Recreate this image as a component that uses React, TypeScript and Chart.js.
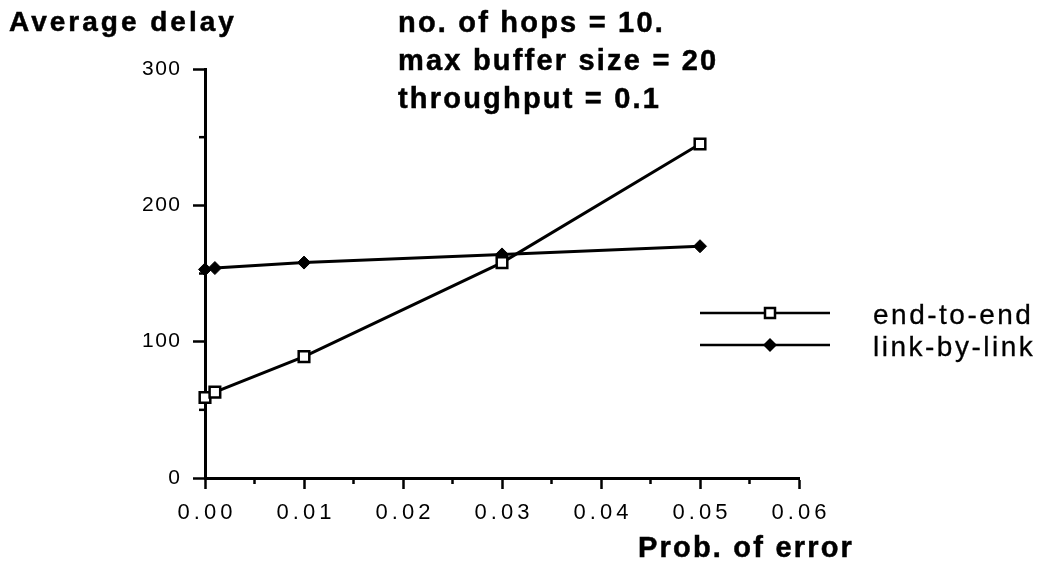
import React, { useEffect, useRef } from "react";
import { Chart, registerables, LinearScale } from "chart.js";

Chart.register(...registerables);

// Linear scale whose tick labels are drawn with extra letter spacing
class SpacedLinearScale extends LinearScale {
  static id = "spacedLinear";
  drawLabels(chartArea: any) {
    const ctx = this.ctx as any;
    const spacing = (this.options as any).letterSpacing || 0;
    ctx.save();
    ctx.letterSpacing = spacing + "px";
    // keep labels centred / right-aligned despite the trailing spacing
    if (this.isHorizontal()) ctx.translate(spacing / 2, 0);
    else ctx.translate(spacing, 0);
    super.drawLabels(chartArea);
    ctx.restore();
  }
}
Chart.register(SpacedLinearScale as any);

// Probability of error (x) for each measurement
const probError = [0, 0.001, 0.01, 0.03, 0.05];
// Average delay values per scheme
const endToEnd = [59, 63, 89, 158, 245];
const linkByLink = [153, 154, 158, 164, 170];

const xTicks = [0, 0.01, 0.02, 0.03, 0.04, 0.05, 0.06];
const xMinorTicks = [0.005, 0.015, 0.025, 0.035, 0.045, 0.055];
const yTicks = [0, 100, 200, 300];
const yMinorTicks = [50, 150, 250];

const seriesNames = ["end-to-end", "link-by-link"];
const infoLines = ["no. of hops = 10.", "max buffer size = 20", "throughput = 0.1"];

const FONT = "'Liberation Sans', Arial, Helvetica, sans-serif";

const minorTicksPlugin = {
  id: "minorTicks",
  afterDraw(chart: any) {
    const { ctx, scales } = chart;
    const xs = scales.x;
    const ys = scales.y;
    ctx.save();
    ctx.strokeStyle = "#000";
    ctx.lineWidth = 2.5;
    ctx.lineCap = "butt";
    xMinorTicks.forEach((v) => {
      const px = xs.getPixelForValue(v);
      ctx.beginPath();
      ctx.moveTo(px, ys.bottom);
      ctx.lineTo(px, ys.bottom + 6);
      ctx.stroke();
    });
    yMinorTicks.forEach((v) => {
      const py = ys.getPixelForValue(v);
      ctx.beginPath();
      ctx.moveTo(xs.left, py);
      ctx.lineTo(xs.left - 6, py);
      ctx.stroke();
    });
    ctx.restore();
  },
};

// Legend samples: a line with the series marker in the middle
const legendPlugin = {
  id: "sampleLegend",
  afterDraw(chart: any) {
    const { ctx } = chart;
    const rows = [313, 345];
    const x0 = 700;
    const x1 = 830;
    const mx = 770;
    ctx.save();
    ctx.strokeStyle = "#000";
    ctx.lineWidth = 2.5;
    rows.forEach((y, i) => {
      ctx.beginPath();
      ctx.moveTo(x0, y);
      ctx.lineTo(x1, y);
      ctx.stroke();
      if (i === 0) {
        ctx.fillStyle = "#fff";
        ctx.beginPath();
        ctx.rect(mx - 5, y - 5, 10, 10);
        ctx.fill();
        ctx.stroke();
      } else {
        ctx.fillStyle = "#000";
        ctx.beginPath();
        ctx.moveTo(mx, y - 7);
        ctx.lineTo(mx + 7, y);
        ctx.lineTo(mx, y + 7);
        ctx.lineTo(mx - 7, y);
        ctx.closePath();
        ctx.fill();
      }
    });
    ctx.restore();
  },
};

function DelayChart() {
  const ref = useRef<HTMLCanvasElement | null>(null);

  useEffect(() => {
    if (!ref.current) return;
    const chart = new Chart(ref.current, {
      type: "line",
      data: {
        datasets: [
          {
            label: seriesNames[0],
            data: probError.map((x, i) => ({ x, y: endToEnd[i] })),
            borderColor: "#000",
            borderWidth: 3,
            pointStyle: "rect",
            pointRadius: 7.5,
            pointBorderWidth: 2.5,
            pointBackgroundColor: "#fff",
            pointBorderColor: "#000",
            tension: 0,
            clip: false,
          },
          {
            label: seriesNames[1],
            data: probError.map((x, i) => ({ x, y: linkByLink[i] })),
            borderColor: "#000",
            borderWidth: 3,
            pointStyle: "rectRot",
            pointRadius: 6.5,
            pointBorderWidth: 1,
            pointBackgroundColor: "#000",
            pointBorderColor: "#000",
            tension: 0,
            clip: false,
          },
        ],
      },
      options: {
        animation: false,
        responsive: false,
        devicePixelRatio: 1,
        layout: { padding: { left: 0, top: 69, right: 246, bottom: 0 } },
        plugins: {
          legend: { display: false },
          tooltip: { enabled: false },
        },
        scales: {
          x: {
            type: "spacedLinear" as any,
            letterSpacing: 4,
            min: 0,
            max: 0.06,
            afterBuildTicks: (s: any) => {
              s.ticks = xTicks.map((value) => ({ value }));
            },
            afterFit: (s: any) => {
              s.height = 91;
            },
            ticks: {
              callback: (v: any) => Number(v).toFixed(2),
              color: "#000",
              font: { family: FONT, size: 22 },
              padding: 11,
              maxRotation: 0,
              autoSkip: false,
            },
            grid: {
              drawOnChartArea: false,
              drawTicks: true,
              tickLength: 11,
              tickWidth: 2.5,
              tickColor: "#000",
            },
            border: { display: true, color: "#000", width: 3 },
          } as any,
          y: {
            type: "spacedLinear" as any,
            letterSpacing: 1.5,
            min: 0,
            max: 300,
            afterBuildTicks: (s: any) => {
              s.ticks = yTicks.map((value) => ({ value }));
            },
            afterFit: (s: any) => {
              s.width = 205;
            },
            ticks: {
              color: "#000",
              font: { family: FONT, size: 21 },
              padding: 13,
            },
            grid: {
              drawOnChartArea: false,
              drawTicks: true,
              tickLength: 12,
              tickWidth: 2.5,
              tickColor: "#000",
            },
            border: { display: true, color: "#000", width: 3 },
          } as any,
        },
      },
      plugins: [minorTicksPlugin, legendPlugin],
    });
    return () => chart.destroy();
  }, []);

  return (
    <canvas
      ref={ref}
      width={1045}
      height={569}
      style={{ width: 1045, height: 569, display: "block" }}
    />
  );
}

const boldText: React.CSSProperties = {
  position: "absolute",
  fontFamily: FONT,
  fontWeight: "bold",
  fontSize: 29,
  letterSpacing: 2.2,
  lineHeight: 1,
  whiteSpace: "nowrap",
  color: "#000",
  WebkitTextStroke: "0.5px #000",
};

const plainText: React.CSSProperties = {
  position: "absolute",
  fontFamily: FONT,
  fontSize: 28,
  letterSpacing: 2.5,
  lineHeight: 1,
  whiteSpace: "nowrap",
  color: "#000",
  WebkitTextStroke: "0.3px #000",
};

export default function App() {
  return (
    <div
      style={{
        position: "absolute",
        left: 0,
        top: 0,
        width: 1045,
        height: 569,
        background: "#fff",
        overflow: "hidden",
      }}
    >
      <DelayChart />
      <div style={{ ...boldText, fontSize: 28, letterSpacing: 3, left: 9, top: 8 }}>
        Average delay
      </div>
      {infoLines.map((t, i) => (
        <div key={t} style={{ ...boldText, left: 398, top: 8 + i * 38 }}>
          {t}
        </div>
      ))}
      <div style={{ ...boldText, left: 638, top: 533 }}>Prob. of error</div>
      <div style={{ ...plainText, left: 873, top: 301 }}>{seriesNames[0]}</div>
      <div style={{ ...plainText, left: 873, top: 333 }}>{seriesNames[1]}</div>
    </div>
  );
}
